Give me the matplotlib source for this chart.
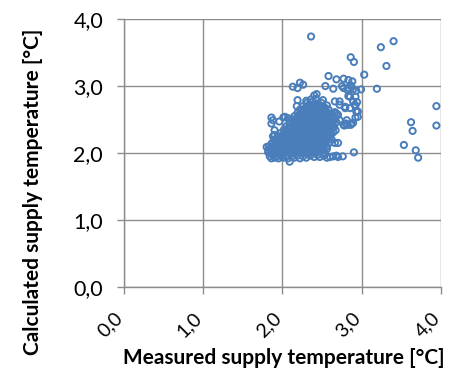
import matplotlib
matplotlib.use("Agg")
import matplotlib.pyplot as plt
import matplotlib.transforms as mtransforms
from matplotlib.ticker import FuncFormatter

plt.rcParams["font.family"] = ["Lato", "DejaVu Sans"]

# dense core of the cloud, roughly row by row (measured, calculated)
core_points = [
    (1.82, 2.01), (1.88, 1.99), (1.94, 2.02), (2.00, 2.00), (2.06, 2.01), (2.12, 1.99), (2.18, 2.02),
    (2.24, 2.00), (2.30, 1.99), (2.36, 2.01), (2.42, 2.00), (2.48, 2.02), (2.54, 1.99),
    (1.85, 2.06), (1.91, 2.05), (1.97, 2.04), (2.03, 2.06), (2.09, 2.05), (2.15, 2.04), (2.21, 2.06),
    (2.27, 2.05), (2.33, 2.04), (2.39, 2.06), (2.45, 2.05), (2.51, 2.04),
    (1.83, 2.10), (1.89, 2.11), (1.95, 2.09), (2.01, 2.10), (2.07, 2.11), (2.13, 2.09), (2.19, 2.10),
    (2.25, 2.11), (2.31, 2.09), (2.37, 2.10), (2.43, 2.11), (2.49, 2.09), (2.56, 2.10),
    (1.87, 2.15), (1.93, 2.16), (1.99, 2.14), (2.05, 2.15), (2.11, 2.16), (2.17, 2.14), (2.23, 2.15),
    (2.29, 2.16), (2.35, 2.14), (2.41, 2.15), (2.47, 2.16), (2.53, 2.14), (2.59, 2.15),
    (1.90, 2.20), (1.96, 2.19), (2.02, 2.21), (2.08, 2.20), (2.14, 2.19), (2.20, 2.21), (2.26, 2.20),
    (2.32, 2.19), (2.38, 2.21), (2.44, 2.20), (2.50, 2.19), (2.56, 2.21), (2.62, 2.20),
    (1.94, 2.25), (2.00, 2.26), (2.06, 2.24), (2.12, 2.25), (2.18, 2.26), (2.24, 2.24), (2.30, 2.25),
    (2.36, 2.26), (2.42, 2.24), (2.48, 2.25), (2.54, 2.26), (2.60, 2.24),
    (1.98, 2.30), (2.04, 2.29), (2.10, 2.31), (2.16, 2.30), (2.22, 2.29), (2.28, 2.31), (2.34, 2.30),
    (2.40, 2.29), (2.46, 2.31), (2.52, 2.30), (2.58, 2.29), (2.64, 2.31),
    (2.02, 2.35), (2.08, 2.36), (2.14, 2.34), (2.20, 2.35), (2.26, 2.36), (2.32, 2.34), (2.38, 2.35),
    (2.44, 2.36), (2.50, 2.34), (2.56, 2.35), (2.62, 2.36), (2.67, 2.34),
    (2.05, 2.40), (2.11, 2.39), (2.17, 2.41), (2.23, 2.40), (2.29, 2.39), (2.35, 2.41), (2.41, 2.40),
    (2.47, 2.39), (2.53, 2.41), (2.59, 2.40), (2.65, 2.39),
    (2.09, 2.45), (2.15, 2.46), (2.21, 2.44), (2.27, 2.45), (2.33, 2.46), (2.39, 2.44), (2.45, 2.45),
    (2.51, 2.46), (2.57, 2.44), (2.63, 2.45), (2.68, 2.46),
    (2.12, 2.50), (2.18, 2.49), (2.24, 2.51), (2.30, 2.50), (2.36, 2.49), (2.42, 2.51), (2.48, 2.50),
    (2.54, 2.49), (2.60, 2.51), (2.66, 2.50),
    (2.15, 2.55), (2.21, 2.56), (2.27, 2.54), (2.33, 2.55), (2.39, 2.56), (2.45, 2.54), (2.51, 2.55),
    (2.57, 2.56), (2.63, 2.54),
    (2.19, 2.60), (2.25, 2.59), (2.31, 2.61), (2.37, 2.60), (2.43, 2.59), (2.49, 2.61), (2.55, 2.60),
    (2.61, 2.59), (2.66, 2.61),
    (2.22, 2.65), (2.28, 2.66), (2.34, 2.64), (2.40, 2.65), (2.46, 2.66), (2.52, 2.64), (2.58, 2.65),
    (2.26, 2.70), (2.32, 2.69), (2.38, 2.71), (2.44, 2.70), (2.50, 2.69), (2.56, 2.71),
    (2.31, 2.75), (2.37, 2.76), (2.43, 2.74), (2.49, 2.75),
    (2.36, 2.80), (2.42, 2.81), (2.40, 2.86),
]

# in-between rows of the core
core_fill_points = [
    (1.85, 2.03), (1.91, 2.03), (1.97, 2.02), (2.03, 2.03), (2.09, 2.03), (2.15, 2.02), (2.21, 2.03),
    (2.27, 2.03), (2.33, 2.02), (2.39, 2.03), (2.45, 2.03),
    (1.86, 2.08), (1.92, 2.08), (1.98, 2.07), (2.04, 2.08), (2.10, 2.08), (2.16, 2.07), (2.22, 2.08),
    (2.28, 2.08), (2.34, 2.07), (2.40, 2.08), (2.46, 2.08), (2.52, 2.07),
    (1.86, 2.13), (1.92, 2.13), (1.98, 2.12), (2.04, 2.13), (2.10, 2.13), (2.16, 2.12), (2.22, 2.13),
    (2.28, 2.13), (2.34, 2.12), (2.40, 2.13), (2.46, 2.13), (2.52, 2.12),
    (1.93, 2.18), (1.99, 2.18), (2.05, 2.17), (2.11, 2.18), (2.17, 2.18), (2.23, 2.17), (2.29, 2.18),
    (2.35, 2.18), (2.41, 2.17), (2.47, 2.18), (2.53, 2.18),
    (1.97, 2.23), (2.03, 2.23), (2.09, 2.22), (2.15, 2.23), (2.21, 2.23), (2.27, 2.22), (2.33, 2.23),
    (2.39, 2.23), (2.45, 2.22), (2.51, 2.23), (2.57, 2.23),
    (2.01, 2.28), (2.07, 2.28), (2.13, 2.27), (2.19, 2.28), (2.25, 2.28), (2.31, 2.27), (2.37, 2.28),
    (2.43, 2.28), (2.49, 2.27), (2.55, 2.28), (2.61, 2.28),
    (2.05, 2.33), (2.11, 2.33), (2.17, 2.32), (2.23, 2.33), (2.29, 2.33), (2.35, 2.32), (2.41, 2.33),
    (2.47, 2.33), (2.53, 2.32), (2.59, 2.33),
    (2.08, 2.38), (2.14, 2.38), (2.20, 2.37), (2.26, 2.38), (2.32, 2.38), (2.38, 2.37), (2.44, 2.38),
    (2.50, 2.38), (2.56, 2.37), (2.62, 2.38),
    (2.12, 2.43), (2.18, 2.43), (2.24, 2.42), (2.30, 2.43), (2.36, 2.43), (2.42, 2.42), (2.48, 2.43),
    (2.54, 2.43), (2.60, 2.42),
    (2.15, 2.48), (2.21, 2.48), (2.27, 2.47), (2.33, 2.48), (2.39, 2.48), (2.45, 2.47), (2.51, 2.48),
    (2.57, 2.48), (2.63, 2.47),
    (2.18, 2.53), (2.24, 2.53), (2.30, 2.52), (2.36, 2.53), (2.42, 2.53), (2.48, 2.52), (2.54, 2.53),
    (2.60, 2.53),
    (2.22, 2.58), (2.28, 2.58), (2.34, 2.57), (2.40, 2.58), (2.46, 2.58), (2.52, 2.57), (2.58, 2.58),
    (2.25, 2.63), (2.31, 2.63), (2.37, 2.62), (2.43, 2.63), (2.49, 2.63), (2.55, 2.62),
    (2.29, 2.68), (2.35, 2.68), (2.41, 2.67), (2.47, 2.68), (2.53, 2.68),
    (2.34, 2.73), (2.40, 2.73), (2.46, 2.72),
]

# lower edge of the cloud, near 2,0
bottom_points = [
    (1.84, 1.95), (1.86, 1.92), (1.88, 1.97), (1.90, 1.93), (1.93, 1.95), (1.95, 1.92), (1.98, 1.96),
    (2.01, 1.93), (2.04, 1.95), (2.07, 1.92), (2.09, 1.87), (2.12, 1.95), (2.15, 1.93), (2.19, 1.96),
    (2.22, 1.92), (2.26, 1.95), (2.30, 1.93), (2.35, 1.96), (2.40, 1.94), (2.44, 1.97), (2.47, 1.94),
    (2.52, 1.96), (2.56, 1.93), (2.60, 1.94), (2.64, 1.95), (2.68, 1.96), (2.70, 1.94), (2.76, 1.95),
    (2.56, 2.06), (2.66, 2.15), (2.70, 2.15), (2.90, 2.01), (1.80, 2.09), (1.82, 2.04),
]

# looser points around the cloud
edge_points = [
    (1.86, 2.53), (1.86, 2.44), (1.90, 2.34), (1.88, 2.25), (1.88, 2.49), (1.90, 2.27),
    (2.01, 2.53), (2.07, 2.52), (1.96, 2.47), (2.03, 2.54),
    (2.19, 2.79), (2.18, 2.70), (2.30, 2.78), (2.43, 2.88), (2.51, 2.79), (2.66, 2.77),
    (2.72, 2.72), (2.79, 2.67), (2.70, 2.57), (2.72, 2.49), (2.78, 2.41), (2.80, 2.44),
    (2.86, 2.42), (2.87, 2.44), (2.81, 2.49), (2.77, 2.42), (2.68, 2.59), (2.82, 2.42),
    (2.89, 2.45), (2.92, 2.53), (2.95, 2.62), (2.92, 2.71), (2.94, 2.76), (2.92, 2.84),
    (2.83, 2.85), (2.85, 2.84), (2.89, 2.77), (2.91, 2.72), (2.93, 2.62), (2.95, 2.54),
    (2.85, 2.67), (2.79, 2.69), (2.72, 2.77),
    (2.77, 2.97), (2.82, 2.94), (2.89, 2.95), (2.93, 2.93), (2.99, 2.95), (2.86, 3.01),
    (2.83, 3.09), (2.88, 3.07), (2.77, 3.11), (2.75, 3.00), (2.87, 2.99), (2.83, 2.97),
    (2.58, 3.15), (2.68, 3.10), (2.54, 3.00), (2.64, 2.96),
    (2.13, 2.99), (2.22, 3.05), (2.19, 2.97), (2.26, 3.02),
]

# far outliers
outlier_points = [
    (2.36, 3.74), (3.24, 3.58), (3.40, 3.67), (3.31, 3.30), (2.86, 3.43), (2.90, 3.36),
    (3.03, 3.17), (3.19, 2.96), (3.94, 2.70), (3.94, 2.41), (3.62, 2.46), (3.64, 2.33),
    (3.53, 2.12), (3.68, 2.04), (3.71, 1.93),
]

tick_values = [0.0, 1.0, 2.0, 3.0, 4.0]

all_points = core_points + core_fill_points + bottom_points + edge_points + outlier_points
measured = [p[0] for p in all_points]
calculated = [p[1] for p in all_points]

fig = plt.figure(figsize=(4.52, 3.82), dpi=100)
ax = fig.add_axes([0.274, 0.249, 0.702, 0.701])

ax.scatter(measured, calculated, s=20, facecolors="none", edgecolors="#4A7EBB",
           linewidths=1.4, zorder=3)

ax.set_xlim(0, 4)
ax.set_ylim(0, 4)
ax.set_xticks(tick_values)
ax.set_yticks(tick_values)
comma = FuncFormatter(lambda v, pos: f"{v:.1f}".replace(".", ","))
ax.xaxis.set_major_formatter(comma)
ax.yaxis.set_major_formatter(comma)

ax.grid(True, color="#8C8C8C", linewidth=1.0, zorder=0)
for side in ["top", "right"]:
    ax.spines[side].set_visible(False)
for side in ["left", "bottom"]:
    ax.spines[side].set_color("#8C8C8C")
    ax.spines[side].set_linewidth(1.0)
ax.tick_params(axis="both", colors="#8C8C8C", length=5, width=1.0, labelcolor="black")
ax.tick_params(axis="y", pad=10, labelsize=15.5)
ax.tick_params(axis="x", pad=11, labelsize=14)

# rotated x labels, nudged a little to the right of their ticks
nudge = mtransforms.ScaledTranslation(1.5 / 72, 0, fig.dpi_scale_trans)
for lab in ax.get_xticklabels():
    lab.set_rotation(45)
    lab.set_ha("right")
    lab.set_va("top")
    lab.set_transform(lab.get_transform() + nudge)

fig.text(0.073, 0.497, "Calculated supply temperature [°C]", rotation=90,
         ha="center", va="center", fontsize=15, fontweight="bold")
fig.text(0.627, 0.063, "Measured supply temperature [°C]",
         ha="center", va="center", fontsize=15, fontweight="bold")

fig.savefig("out.png", dpi=100)
